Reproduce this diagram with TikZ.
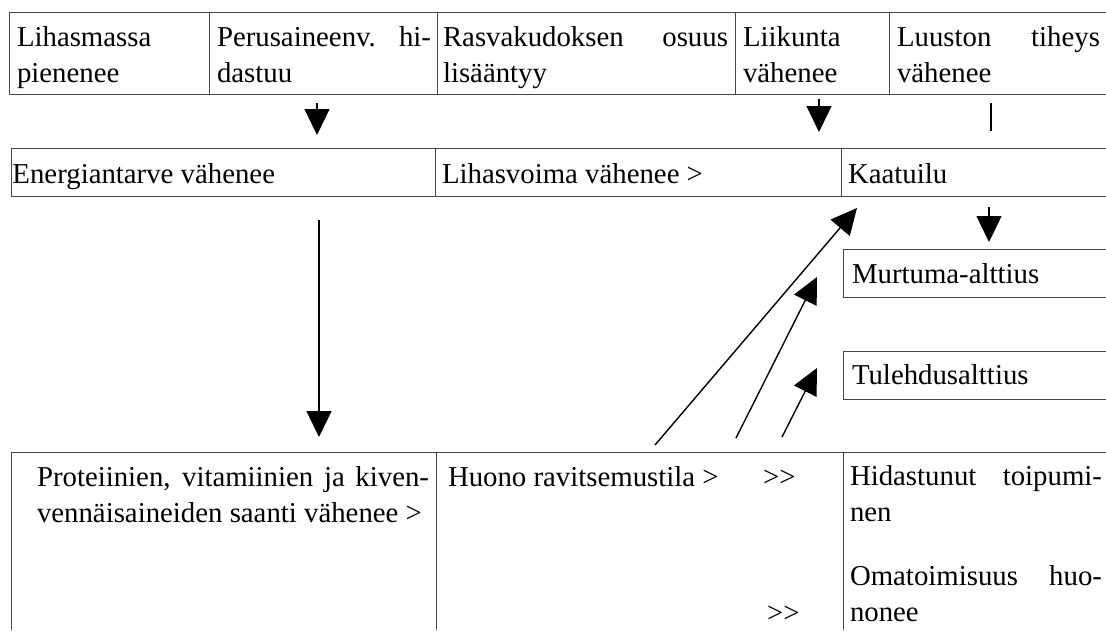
\documentclass[tikz,border=0pt]{standalone}
\usepackage{fontspec}
\setmainfont{Liberation Serif}
\usetikzlibrary{arrows.meta}
\tolerance=10000
\hbadness=10000
\begin{document}
\begin{tikzpicture}[x=1pt,y=-1pt,
  grid/.style={draw=black!72,line width=1pt},
  txt/.style={anchor=base west,inner sep=0pt,outer sep=0pt,font=\fontsize{28.8}{36}\selectfont},
  cell/.style={txt,text width=#1,align=justify},
  arr/.style={draw=black,line width=1.4pt,-{Triangle[length=26pt,width=25pt]}},
  stub/.style={draw=black,line width=1.4pt},
]
\useasboundingbox[fill=white] (0,0) rectangle (1106,630);

% top row grid
\draw[grid] (9,12) -- (1106,12) (9,94) -- (1106,94);
\draw[grid] (9,12) -- (9,94) (209,12) -- (209,94) (437,12) -- (437,94)
            (735,12) -- (735,94) (889,12) -- (889,94);
% middle row grid
\draw[grid] (11,148) -- (1106,148) (11,196) -- (1106,196);
\draw[grid] (11,148) -- (11,196) (435,148) -- (435,196) (841,148) -- (841,196);
% small boxes
\draw[grid] (1106,249) -- (843,249) -- (843,297) -- (1106,297);
\draw[grid] (1106,351) -- (843,351) -- (843,399) -- (1106,399);
% bottom row grid
\draw[grid] (11,630) -- (11,452) -- (1106,452);
\draw[grid] (436,452) -- (436,630) (843,452) -- (843,630);

% top row texts
\node[cell=184pt] (lihasmassa) at (17,46) {Lihasmassa\linebreak pienenee};
\node[cell=214pt] (perus) at (217,46) {Perusaineenv. hi-\linebreak dastuu};
\node[cell=285pt] (rasva) at (443,46) {Rasvakudoksen osuus\linebreak lisääntyy};
\node[cell=140pt] (liikunta) at (743,46) {Liikunta\linebreak vähenee};
\node[cell=203pt] (luusto) at (897,46) {Luuston tiheys\linebreak vähenee};

% middle row texts
\node[txt] (energia) at (12.5,183) {Energiantarve vähenee};
\node[txt] (lihasvoima) at (442,183) {Lihasvoima vähenee >};
\node[txt] (kaatuilu) at (848,183) {Kaatuilu};
\node[txt] (murtuma) at (852,283) {Murtuma-alttius};
\node[txt] (tulehdus) at (852,384) {Tulehdusalttius};

% bottom row texts
\node[cell=392pt] (proteiini) at (37,486) {Proteiinien, vitamiinien ja kiven-\linebreak vennäisaineiden saanti vähenee >};
\node[txt] (huono) at (448,486) {Huono ravitsemustila >};
\node[txt] (gg1) at (763,486) {>\kern0pt>};
\node[txt] (gg2) at (767,622) {>\kern0pt>};
\node[cell=252pt] (hidas) at (850,485) {Hidastunut toipumi-\linebreak nen};
\node[cell=252pt] (omatoim) at (850,585) {Omatoimisuus huo-\linebreak nonee};

% connector end points
\coordinate (p1a) at (317,103); \coordinate (p1b) at (317,135);
\coordinate (p2a) at (819,99);  \coordinate (p2b) at (819,132);
\coordinate (p3a) at (991,103); \coordinate (p3b) at (991,131);
\coordinate (p4a) at (989,207); \coordinate (p4b) at (989,242);
\coordinate (p5a) at (319,220); \coordinate (p5b) at (319,437);
\coordinate (d1a) at (655,445); \coordinate (d1b) at (857,208);
\coordinate (d2a) at (736,438); \coordinate (d2b) at (817,277);
\coordinate (d3a) at (782,437); \coordinate (d3b) at (817,368);

% connectors
\draw[arr] (p1a) -- (p1b);
\draw[arr] (p2a) -- (p2b);
\draw[stub] (p3a) -- (p3b);
\draw[arr] (p4a) -- (p4b);
\draw[arr] (p5a) -- (p5b);
\draw[arr] (d1a) -- (d1b);
\draw[arr] (d2a) -- (d2b);
\draw[arr] (d3a) -- (d3b);
\end{tikzpicture}
\end{document}
